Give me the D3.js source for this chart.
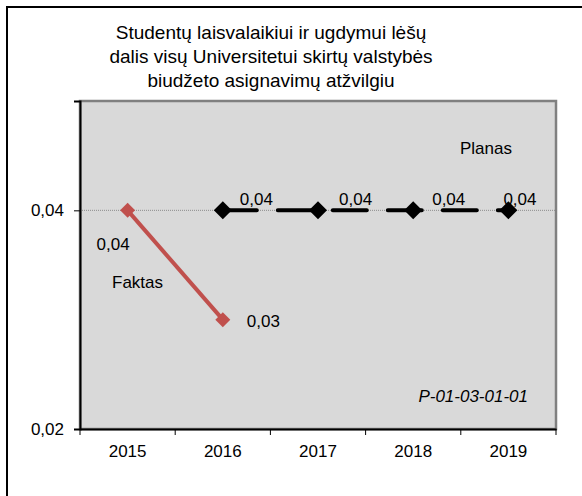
<!DOCTYPE html>
<html lang="lt">
  <head>
    <meta charset="UTF-8" />
    <title>Studentų laisvalaikiui</title>
    <script src="https://cdn.jsdelivr.net/npm/d3@7"></script>
    <style>
      body { margin: 0; background: #fff; }
      text { font-family: "Liberation Sans", Arial, sans-serif; fill: #000; }
    </style>
  </head>
  <body>
    <svg width="582" height="496"></svg>
  </body>

  <script>
    // duomenys
    var years = ['2015', '2016', '2017', '2018', '2019'];
    var faktas = [0.04, 0.03, null, null, null];
    var planas = [null, 0.04, 0.04, 0.04, 0.04];
    var yTicks = [0.02, 0.04];
    var titleLines = [
      'Studentų laisvalaikiui ir ugdymui lėšų',
      'dalis visų Universitetui skirtų valstybės',
      'biudžeto asignavimų atžvilgiu'
    ];

    var svg = d3.select('svg');
    var fmt = function (d) { return d.toFixed(2).replace('.', ','); };

    // išorinis rėmelis (dešinė ir apačia už paveikslo ribų)
    svg.append('rect')
      .attr('x', 7).attr('y', 7)
      .attr('width', 600).attr('height', 520)
      .attr('fill', '#fff').attr('stroke', '#000').attr('stroke-width', 2);

    // pavadinimas
    svg.append('g').selectAll('text').data(titleLines).enter().append('text')
      .attr('x', 271)
      .attr('y', function (d, i) { return 39 + i * 24; })
      .attr('text-anchor', 'middle')
      .style('font-size', '19px')
      .text(function (d) { return d; });

    var pL = 80, pR = 556, pT = 101, pB = 429;

    var x = d3.scaleBand().domain(years).range([pL, pR]);
    var y = d3.scaleLinear().domain([0.02, 0.05]).range([pB, pT]);
    var cx = function (i) { return x(years[i]) + x.bandwidth() / 2; };

    // braižymo sritis
    svg.append('rect')
      .attr('x', pL).attr('y', pT)
      .attr('width', pR - pL).attr('height', pB - pT)
      .attr('fill', '#d9d9d9').attr('stroke', '#808080').attr('stroke-width', 2.5);

    // tinklelis ties 0,04
    svg.append('line')
      .attr('x1', pL).attr('x2', pR)
      .attr('y1', y(0.04)).attr('y2', y(0.04))
      .attr('stroke', '#8c8c8c').attr('stroke-width', 1).attr('stroke-dasharray', '1,1');

    // Y ašis
    var gy = svg.append('g').attr('transform', 'translate(' + pL + ',0)')
      .call(d3.axisLeft(y).tickValues(yTicks).tickFormat(fmt).tickSize(6).tickPadding(10));
    gy.select('.domain').attr('stroke', '#000').attr('stroke-width', 2);
    gy.selectAll('.tick line').attr('stroke', '#000');
    gy.selectAll('.tick text').style('font-size', '17px').attr('font-family', null);

    // X ašis: žymės tarp kategorijų
    var gx = svg.append('g').attr('transform', 'translate(0,' + pB + ')')
      .call(d3.axisBottom(x).tickSize(0).tickPadding(16));
    gx.select('.domain').attr('stroke', '#000').attr('stroke-width', 2);
    gx.selectAll('.tick text').style('font-size', '17px').attr('font-family', null);
    var edges = years.map(function (d) { return x(d); }).concat([pR]);
    gx.selectAll('.edge').data(edges).enter().append('line')
      .attr('x1', function (d) { return d; }).attr('x2', function (d) { return d; })
      .attr('y1', 0).attr('y2', 6)
      .attr('stroke', '#000');

    // linijos
    var line = d3.line()
      .defined(function (d) { return d != null; })
      .x(function (d, i) { return cx(i); })
      .y(function (d) { return y(d); });

    svg.append('path').datum(planas)
      .attr('d', line)
      .attr('fill', 'none').attr('stroke', '#000').attr('stroke-width', 4)
      .attr('stroke-linecap', 'round').attr('stroke-dasharray', '34,21');

    svg.append('path').datum(faktas)
      .attr('d', line)
      .attr('fill', 'none').attr('stroke', '#c0504d').attr('stroke-width', 4);

    // taškai su indeksais
    function pts(arr) {
      return arr.map(function (v, i) { return { i: i, v: v }; })
        .filter(function (p) { return p.v != null; });
    }

    // žymekliai
    svg.append('g').selectAll('path').data(pts(planas)).enter().append('path')
      .attr('d', d3.symbol().type(d3.symbolSquare).size(162))
      .attr('transform', function (p) { return 'translate(' + cx(p.i) + ',' + y(p.v) + ') rotate(45)'; })
      .attr('fill', '#000');

    svg.append('g').selectAll('path').data(pts(faktas)).enter().append('path')
      .attr('d', d3.symbol().type(d3.symbolSquare).size(112))
      .attr('transform', function (p) { return 'translate(' + cx(p.i) + ',' + y(p.v) + ') rotate(45)'; })
      .attr('fill', '#c0504d');

    // reikšmių žymės
    var lbl = svg.append('g').style('font-size', '17px');
    var pOff = [0, 17, 21, 19, -5];
    lbl.selectAll('.lp').data(pts(planas)).enter().append('text')
      .attr('x', function (p) { return cx(p.i) + pOff[p.i]; })
      .attr('y', function (p) { return y(p.v) - 5; })
      .text(function (p) { return fmt(p.v); });

    var fOff = [[-31, 40], [24, 7]];
    lbl.selectAll('.lf').data(pts(faktas)).enter().append('text')
      .attr('x', function (p) { return cx(p.i) + fOff[p.i][0]; })
      .attr('y', function (p) { return y(p.v) + fOff[p.i][1]; })
      .text(function (p) { return fmt(p.v); });

    // serijų pavadinimai ir kodas
    lbl.append('text').attr('x', 460).attr('y', 154).text('Planas');
    lbl.append('text').attr('x', 112).attr('y', 288).text('Faktas');
    lbl.append('text').attr('x', 528).attr('y', 402)
      .attr('text-anchor', 'end').style('font-style', 'italic').text('P-01-03-01-01');
  </script>
</html>
